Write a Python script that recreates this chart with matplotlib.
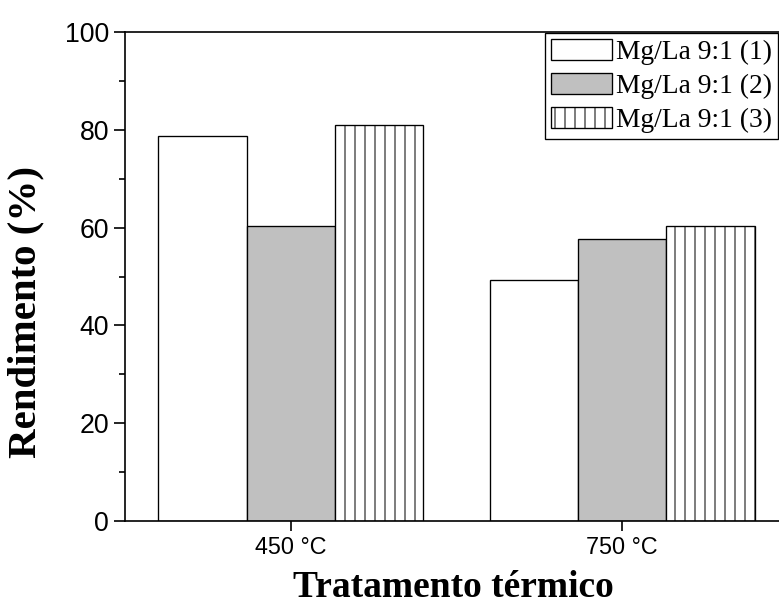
import numpy as np
import matplotlib
matplotlib.use("Agg")
import matplotlib.pyplot as plt
from matplotlib.ticker import MultipleLocator

# Data
categories = ["450 °C", "750 °C"]
series_names = ["Mg/La 9:1 (1)", "Mg/La 9:1 (2)", "Mg/La 9:1 (3)"]
sample_1 = [78.8, 49.2]
sample_2 = [60.3, 57.6]
sample_3 = [80.9, 60.3]

DPI = 120
plt.rcParams['hatch.linewidth'] = 0.6

fig = plt.figure(figsize=(779 / DPI, 605 / DPI), dpi=DPI)
# axes run past the right edge of the figure, like the cropped original
ax = fig.add_axes([125 / 779, 84 / 605, 663 / 779, 489 / 605])

x = np.arange(len(categories))
w = 0.8 / 3
styles = [
    dict(facecolor="white", hatch=None),
    dict(facecolor="#c0c0c0", hatch=None),
    dict(facecolor="white", hatch="||"),
]
for i, (vals, name) in enumerate(zip([sample_1, sample_2, sample_3], series_names)):
    ax.bar(x + (i - 1) * w, vals, width=w, label=name, edgecolor="black",
           linewidth=0.8, **styles[i])

ax.set_xlim(-0.5, 1.5)
ax.set_ylim(0, 100)
ax.set_xticks(x)
ax.set_xticklabels(categories, fontfamily="Liberation Sans", fontsize=14)
ax.yaxis.set_major_locator(MultipleLocator(20))
ax.yaxis.set_minor_locator(MultipleLocator(10))
for lab in ax.get_yticklabels():
    lab.set_fontfamily("Liberation Sans")
    lab.set_fontsize(16)

ax.tick_params(axis="y", which="major", length=6.6, width=1.0, pad=3)
ax.tick_params(axis="y", which="minor", length=3.6, width=1.0)
ax.tick_params(axis="x", which="major", length=6, width=1.0, pad=3)
for sp in ax.spines.values():
    sp.set_linewidth(1.0)

ax.set_xlabel("Tratamento térmico", fontfamily="Liberation Serif",
              fontweight="bold", fontsize=22.5)
ax.set_ylabel("Rendimento (%)", fontfamily="Liberation Serif",
              fontweight="bold", fontsize=24.5)
ax.xaxis.set_label_coords(0.495, -0.101)
ax.yaxis.set_label_coords(-0.121, 0.428)

leg = ax.legend(loc="upper left", bbox_to_anchor=(545 / 779, 572 / 605),
                bbox_transform=fig.transFigure, frameon=True, fancybox=False,
                edgecolor="black", framealpha=1,
                prop={"family": "Liberation Serif", "size": 16.5},
                handlelength=2.25, handleheight=0.8, handletextpad=0.15,
                labelspacing=0.3, borderpad=0.2, borderaxespad=0)
leg.get_frame().set_linewidth(0.8)

fig.savefig("out.png", dpi=DPI)
